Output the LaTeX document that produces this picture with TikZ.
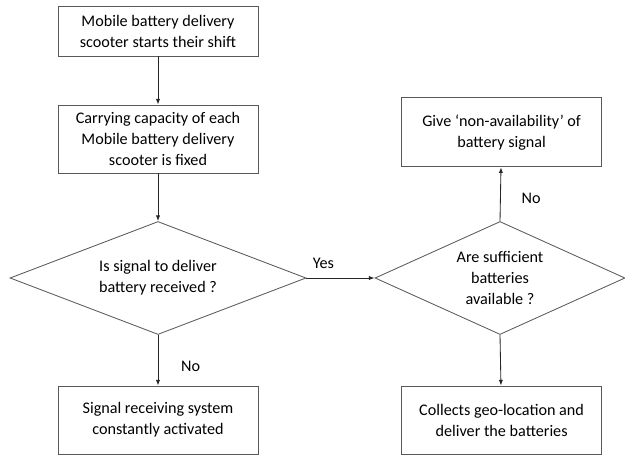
\documentclass[tikz,border=0pt]{standalone}
\usepackage{fontspec}
\setmainfont{Carlito}
\usetikzlibrary{shapes.geometric, arrows.meta}

\tikzset{
  procbox/.style={draw=black!65, line width=0.6pt, rectangle, align=center, minimum width=5cm, inner sep=2pt},
  decision/.style={draw=black!65, line width=0.6pt, diamond, aspect=2.6, align=center, inner sep=0pt, minimum height=2.825cm},
  flow/.style={draw=black!85, line width=0.6pt, -{Latex[length=4pt,width=3pt]}},
}

\begin{document}
\begin{tikzpicture}[font=\fontsize{11.5}{15}\selectfont]
\useasboundingbox (0cm,0cm) rectangle (15.625cm,-11.4cm);
\node [procbox, minimum height=1.25cm] (start) at (3.95cm,-0.775cm) {Mobile battery delivery\\scooter starts their shift};
\node [procbox, minimum height=1.7cm] (capacity) at (3.95cm,-3.475cm) {Carrying capacity of each\\Mobile battery delivery\\scooter is fixed};
\node [decision, minimum width=7.4cm] (signal) at (3.95cm,-6.95cm) {Is signal to deliver\\battery received ?};
\node [procbox, minimum height=1.7cm] (receiving) at (3.95cm,-10.5cm) {Signal receiving system\\constantly activated};
\node [decision, minimum width=6.25cm] (enough) at (12.5cm,-6.95cm) {Are sufficient\\batteries\\available ?};
\node [procbox, minimum height=1.725cm] (nobattery) at (12.54cm,-3.31cm) {Give `non-availability' of\\battery signal};
\node [procbox, minimum height=1.7cm] (deliver) at (12.54cm,-10.5cm) {Collects geo-location and\\deliver the batteries};
\draw [flow] (start) -- (capacity);
\draw [flow] (capacity) -- (signal);
\draw [flow] (signal) -- node[anchor=west, xshift=0.45cm, yshift=-0.15cm]{No}(receiving);
\draw [flow] (signal.east) -- node[pos=0.25, anchor=south, yshift=0.1cm]{Yes}(enough.west);
\draw [flow] (enough.north) -- node[anchor=west, xshift=0.4cm, yshift=-0.1cm]{No}(nobattery);
\draw [flow] (enough.south) -- (deliver);
\end{tikzpicture}
\end{document}
